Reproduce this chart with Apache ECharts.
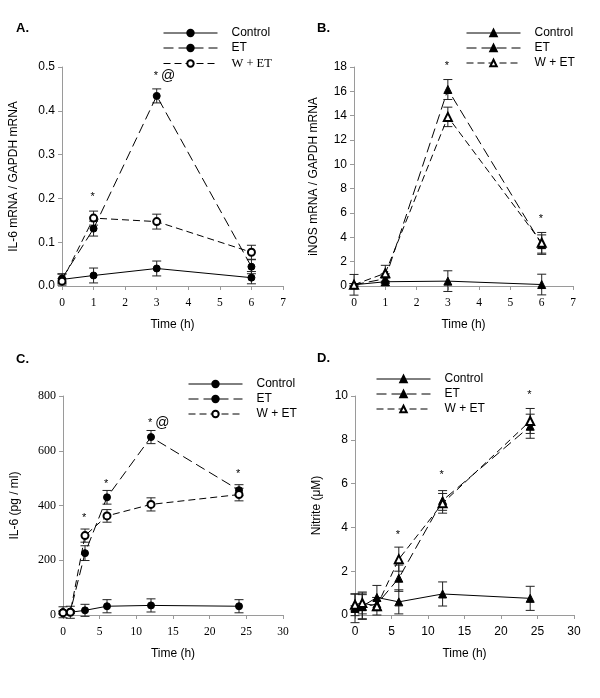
<!DOCTYPE html>
<html><head><meta charset="utf-8">
<script src="https://cdn.jsdelivr.net/npm/echarts@6/dist/echarts.min.js"></script>
<style>html,body{margin:0;padding:0;background:#fff}#c{width:600px;height:698px}</style>
</head><body><div id="c"></div>
<script>
// ---- Panel A: IL-6 mRNA / GAPDH mRNA ----
const A_time = [0, 1, 3, 6];
const A_control = [0.015, 0.024, 0.040, 0.019];
const A_controlErr = [0.013, 0.017, 0.017, 0.014];
const A_et = [0.017, 0.131, 0.434, 0.044];
const A_etErr = [0.010, 0.017, 0.016, 0.016];
const A_wet = [0.011, 0.155, 0.147, 0.077];
const A_wetErr = [0.006, 0.016, 0.017, 0.016];
const A_annX = [1, 3];
const A_annY = [0.204, 0.479];
const A_annText = ['*', '* @'];
const A_yTicks = [0, 0.5, 0.1];
const A_xTicks = [0, 7, 1];

// ---- Panel B: iNOS mRNA / GAPDH mRNA ----
const B_time = [0, 1, 3, 6];
const B_control = [0.1, 0.35, 0.4, 0.12];
const B_controlErr = [0.85, 0.3, 0.85, 0.85];
const B_et = [0.1, 0.6, 16.15, 3.4];
const B_etErr = [0.1, 0.4, 0.82, 0.8];
const B_wet = [0.1, 1.05, 13.9, 3.55];
const B_wetErr = [0.1, 0.65, 0.8, 0.85];
const B_annX = [3, 6];
const B_annY = [18.1, 5.5];
const B_annText = ['*', '*'];
const B_yTicks = [0, 18, 2];
const B_xTicks = [0, 7, 1];

// ---- Panel C: IL-6 (pg / ml) ----
const C_time = [0, 1, 3, 6, 12, 24];
const C_control = [10, 10, 17, 32, 35, 32];
const C_controlErr = [20, 22, 22, 24, 24, 24];
const C_et = [10, 12, 226, 430, 650, 456];
const C_etErr = [5, 5, 27, 25, 24, 20];
const C_wet = [8, 10, 290, 362, 404, 440];
const C_wetErr = [5, 5, 24, 23, 24, 23];
const C_annX = [3, 6, 12, 24];
const C_annY = [354, 479, 700, 514];
const C_annText = ['*', '*', '* @', '*'];
const C_yTicks = [0, 800, 200];
const C_xTicks = [0, 30, 5];

// ---- Panel D: Nitrite (µM) ----
const D_time = [0, 1, 3, 6, 12, 24];
const D_control = [0.3, 0.4, 0.8, 0.6, 0.96, 0.76];
const D_controlErr = [0.65, 0.6, 0.55, 0.55, 0.55, 0.55];
const D_et = [0.32, 0.38, 0.5, 1.68, 5.23, 8.62];
const D_etErr = [0.1, 0.55, 0.3, 0.6, 0.45, 0.55];
const D_wet = [0.47, 0.55, 0.4, 2.55, 5.1, 8.86];
const D_wetErr = [0.5, 0.5, 0.4, 0.55, 0.45, 0.57];
const D_annX = [6, 12, 24];
const D_annY = [3.66, 6.4, 10.05];
const D_annText = ['*', '*', '*'];
const D_yTicks = [0, 10, 2];
const D_xTicks = [0, 30, 5];

const SANS = 'Liberation Sans';
const SERIF = 'Liberation Serif';
const AXIS_GRAY = '#9a9a9a';

const panels = [
  {label:'A.', grid:{left:62, top:67, width:221, height:219}, time:A_time, c:A_control, ce:A_controlErr, e:A_et, ee:A_etErr, w:A_wet, we:A_wetErr,
   annX:A_annX, annY:A_annY, annT:A_annText, yT:A_yTicks, xT:A_xTicks, yName:'IL-6 mRNA / GAPDH mRNA', yGap:42, yFont:SANS, xFont:SERIF,
   fill:'circle', empty:'emptyCircle', yFmt:v=>v.toFixed(1), legend:{left:163, top:27}, legendSerifW:true, title:{left:16, top:22}},
  {label:'B.', grid:{left:354, top:67, width:219, height:219}, time:B_time, c:B_control, ce:B_controlErr, e:B_et, ee:B_etErr, w:B_wet, we:B_wetErr,
   annX:B_annX, annY:B_annY, annT:B_annText, yT:B_yTicks, xT:B_xTicks, yName:'iNOS mRNA / GAPDH mRNA', yGap:34, yFont:SANS, xFont:SERIF,
   fill:'triangle', empty:'emptyTriangle', yFmt:v=>String(v), legend:{left:466, top:27}, legendSerifW:false, title:{left:317, top:22}},
  {label:'C.', grid:{left:63, top:396, width:220, height:219}, time:C_time, c:C_control, ce:C_controlErr, e:C_et, ee:C_etErr, w:C_wet, we:C_wetErr,
   annX:C_annX, annY:C_annY, annT:C_annText, yT:C_yTicks, xT:C_xTicks, yName:'IL-6 (pg / ml)', yGap:42, yFont:SERIF, xFont:SERIF,
   fill:'circle', empty:'emptyCircle', yFmt:v=>String(v), legend:{left:188, top:378}, legendSerifW:false, title:{left:16, top:353}},
  {label:'D.', grid:{left:355, top:396, width:219, height:219}, time:D_time, c:D_control, ce:D_controlErr, e:D_et, ee:D_etErr, w:D_wet, we:D_wetErr,
   annX:D_annX, annY:D_annY, annT:D_annText, yT:D_yTicks, xT:D_xTicks, yName:'Nitrite (\u03bcM)', yGap:32, yFont:SANS, xFont:SANS,
   fill:'triangle', empty:'emptyTriangle', yFmt:v=>String(v), legend:{left:376, top:373}, legendSerifW:false, title:{left:317, top:352}}
];

const option = {animation:false, backgroundColor:'#fff', grid:[], xAxis:[], yAxis:[], series:[], legend:[], title:[]};

function pairs(xs, ys){ return xs.map((x,i)=>[x, ys[i]]); }
function errs(xs, ys, es){ return xs.map((x,i)=>[x, ys[i]-es[i], ys[i]+es[i]]); }

panels.forEach((p, i) => {
  const suf = '\u200b'.repeat(i);
  option.grid.push(p.grid);
  option.title.push({text:p.label, left:p.title.left, top:p.title.top, padding:0,
    textStyle:{fontFamily:SANS, fontWeight:'bold', fontSize:13, color:'#000'}});
  option.xAxis.push({type:'value', gridIndex:i, min:p.xT[0], max:p.xT[1], interval:p.xT[2],
    name:'Time (h)', nameLocation:'middle', nameGap:33,
    nameTextStyle:{fontFamily:SANS, fontSize:12, color:'#000'},
    axisLine:{lineStyle:{color:AXIS_GRAY, width:1}}, axisTick:{show:true, length:4, lineStyle:{color:AXIS_GRAY}},
    splitLine:{show:false}, axisLabel:{fontFamily:p.xFont, fontSize:p.xFont===SERIF?11.5:12, color:'#000', margin:11}});
  option.yAxis.push({type:'value', gridIndex:i, min:p.yT[0], max:p.yT[1], interval:p.yT[2],
    name:p.yName, nameLocation:'middle', nameGap:p.yGap,
    nameTextStyle:{fontFamily:SANS, fontSize:12, color:'#000'},
    axisLine:{show:true, lineStyle:{color:AXIS_GRAY, width:1}}, axisTick:{show:true, length:4, lineStyle:{color:AXIS_GRAY}},
    splitLine:{show:false}, axisLabel:{fontFamily:p.yFont, fontSize:12, color:'#000', margin:7, formatter:p.yFmt}});

  const names = ['Control'+suf, 'ET'+suf, 'W + ET'+suf];
  const defs = [
    {name:names[0], y:p.c, e:p.ce, sym:p.fill, dash:'solid'},
    {name:names[1], y:p.e, e:p.ee, sym:p.fill, dash:[10,5]},
    {name:names[2], y:p.w, e:p.we, sym:p.empty, dash:[7,4]}
  ];
  defs.forEach(d => {
    option.series.push({type:'custom', xAxisIndex:i, yAxisIndex:i, silent:true, z:2,
      data:errs(p.time, d.y, d.e),
      renderItem:(params, api) => {
        const top = api.coord([api.value(0), api.value(2)]);
        const bot = api.coord([api.value(0), api.value(1)]);
        const hw = 4.5;
        const st = {stroke:'#222', lineWidth:1};
        return {type:'group', children:[
          {type:'line', shape:{x1:top[0], y1:top[1], x2:bot[0], y2:bot[1]}, style:st},
          {type:'line', shape:{x1:top[0]-hw, y1:top[1], x2:top[0]+hw, y2:top[1]}, style:st},
          {type:'line', shape:{x1:bot[0]-hw, y1:bot[1], x2:bot[0]+hw, y2:bot[1]}, style:st}
        ]};
      }});
    option.series.push({type:'line', name:d.name, xAxisIndex:i, yAxisIndex:i, z:3,
      data:pairs(p.time, d.y), symbol:d.sym, symbolSize:d.sym.indexOf('riangle')>=0?8:7,
      lineStyle:{color:'#000', width:1, type:d.dash},
      itemStyle:{color:'#000', borderColor:'#000', borderWidth:1}});
  });
  option.series.push({type:'custom', xAxisIndex:i, yAxisIndex:i, silent:true, z:4,
    data:p.annX.map((x,k)=>[x, p.annY[k], k]),
    renderItem:(params, api) => {
      const pt = api.coord([api.value(0), api.value(1)]);
      const t = p.annT[api.value(2)];
      const rt = t.split(' ').map((s,j)=> s==='@' ? '{b|@}' : '{a|'+s+'}').join('{a| }');
      return {type:'text', x:pt[0]-3, y:pt[1], style:{text:rt, fill:'#000', align:'left', verticalAlign:'middle',
        rich:{a:{fontFamily:SANS, fontSize:11, fill:'#000'}, b:{fontFamily:SANS, fontSize:14, fill:'#000'}}}};
    }});
  option.legend.push({data:names, left:p.legend.left, top:p.legend.top, orient:'vertical', selectedMode:false,
    padding:0, itemWidth:54, itemHeight:8, itemGap:3,
    lineStyle:{width:1},
    textStyle:{fontFamily:SANS, fontSize:12, color:'#000', padding:[0,0,0,9],
      rich:{s:{fontFamily:SERIF, fontSize:12.5, color:'#000'}, n:{fontFamily:SANS, fontSize:12, color:'#000'}}},
    formatter:(n)=>{ const t=n.replace(/\u200b/g,''); return (p.legendSerifW && t==='W + ET') ? '{s|'+t+'}' : '{n|'+t+'}'; }});
});

const chart = echarts.init(document.getElementById('c'), null, {renderer:'canvas'});
chart.setOption(option);
</script></body></html>
